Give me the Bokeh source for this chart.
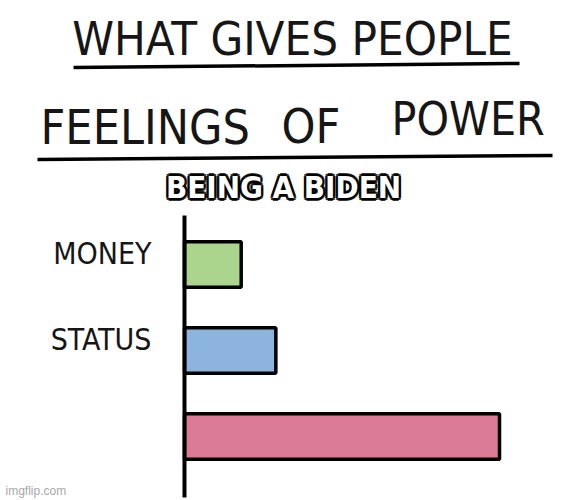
from bokeh.plotting import figure
from bokeh.models import Range1d, ColumnDataSource
from bokeh.core.properties import value
from bokeh.embed import file_html
from bokeh.resources import INLINE

# ---- data ----
title_line1 = "WHAT GIVES PEOPLE"
title_line2 = ["FEELINGS", "OF", "POWER"]
categories = ["MONEY", "STATUS", "BEING A BIDEN"]
tick_labels = ["MONEY", "STATUS", ""]
power = [18, 29, 100]
bar_colors = ["#abd48d", "#8db4de", "#db7b97"]
caption = "BEING A BIDEN"
watermark = "imgflip.com"

# ---- geometry (page pixels) ----
W, H = 564, 500
AXIS_X = 184
PX_PER_UNIT = 3.15
ROW0_Y = 264
ROW_STEP = 86


def dx(px):
    return (px - AXIS_X) / PX_PER_UNIT


def dy(py):
    return (py - ROW0_Y) / ROW_STEP


HAND = "DejaVu Sans Condensed, Roboto, sans-serif"
INK = "#161616"

p = figure(width=W, height=H,
           x_range=Range1d(dx(0), dx(W)),
           y_range=Range1d(dy(H), dy(0)),
           x_axis_location=None, y_axis_location=None,
           output_backend="svg", toolbar_location=None, min_border=0)
p.grid.visible = False
p.outline_line_color = None
p.background_fill_color = "white"

src = ColumnDataSource(dict(
    y=list(range(len(categories))),
    right=power,
    color=bar_colors,
    label=tick_labels,
    name=categories,
))

p.hbar(y="y", left=0, right="right", height=0.53, source=src,
       fill_color="color", line_color="black", line_width=3.5)

# axis line
p.segment(x0=[0], y0=[dy(215)], x1=[0], y1=[dy(497)],
          line_color="black", line_width=4)

# category labels
p.text(x=dx(151), y="y", text="label", source=src,
       text_align="right", text_baseline="middle", y_offset=-11,
       text_font=value(HAND), text_font_size="30px", text_color=INK)

# titles
p.text(x=[dx(292)], y=[dy(38)], text=[title_line1],
       text_align="center", text_baseline="middle",
       text_font=value(HAND), text_font_size="47px", text_color=INK)
p.text(x=[dx(40), dx(281)], y=[dy(126), dy(125)], text=title_line2[:2],
       text_align="left", text_baseline="middle",
       text_font=value(HAND), text_font_size="48px", text_color=INK)
p.text(x=[dx(391)], y=[dy(118)], text=title_line2[2:],
       text_align="left", text_baseline="middle",
       text_font=value(HAND), text_font_size="46px", text_color=INK)

# underlines
p.segment(x0=[dx(73), dx(37)], y0=[dy(67), dy(159)],
          x1=[dx(519), dx(552)], y1=[dy(63), dy(155)],
          line_color="black", line_width=3.5)

# caption: black halo then white text
CAP_FONT = "DejaVu Sans Condensed, Roboto, sans-serif"
for ox, oy in [(-2, -2), (0, -2.5), (2, -2), (-2.5, 0), (2.5, 0),
               (-2, 2), (0, 2.5), (2, 2), (0, 3)]:
    p.text(x=[dx(283)], y=[dy(186)], text=[caption],
           x_offset=ox, y_offset=oy,
           text_align="center", text_baseline="middle",
           text_font=value(CAP_FONT), text_font_style="bold",
           text_font_size="31px", text_color="black", text_alpha=0.8)
p.text(x=[dx(283)], y=[dy(186)], text=[caption],
       text_align="center", text_baseline="middle",
       text_font=value(CAP_FONT), text_font_style="bold",
       text_font_size="31px", text_color="white")

# watermark
p.text(x=[dx(5)], y=[dy(490)], text=[watermark],
       text_align="left", text_baseline="middle",
       text_font=value("Liberation Sans"), text_font_size="12px",
       text_color="#a8a8a8")

open("out.html", "w").write(file_html(p, INLINE))
